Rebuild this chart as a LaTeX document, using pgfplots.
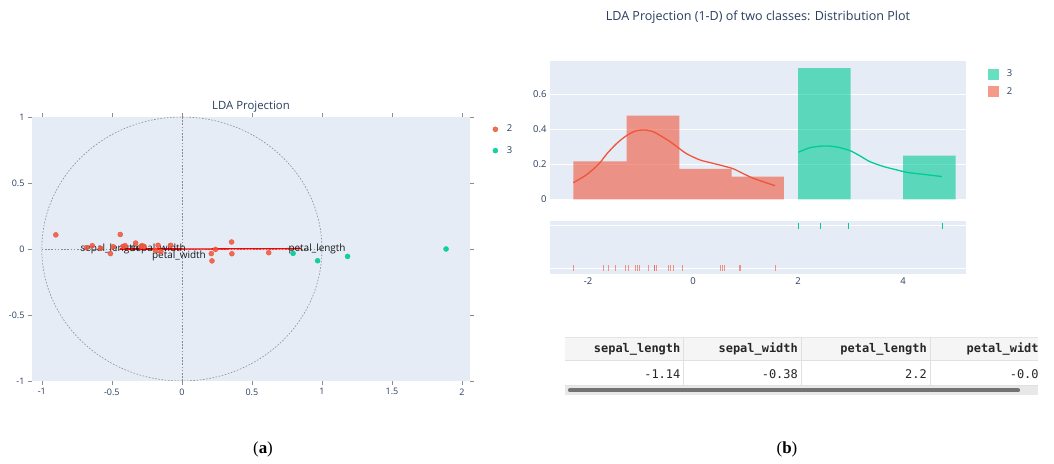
\documentclass[border=0pt]{standalone}
\usepackage{pgfplots}
\pgfplotsset{compat=1.18}
\usepackage{fontspec}
\setmainfont{Open Sans}
\newfontfamily\mono{DejaVu Sans Mono}
\newfontfamily\capfont{Liberation Serif}
\definecolor{plotbg}{HTML}{E5ECF6}
\definecolor{pred}{HTML}{EF553B}
\definecolor{pgreen}{HTML}{00CC96}
\definecolor{ptext}{HTML}{2A3F5F}

\begin{document}
\begin{tikzpicture}
\path[use as bounding box, fill=white] (0bp,0bp) rectangle (1054bp,464bp);

% ---------------- (a) LDA Projection ----------------
\begin{axis}[
  at={(32bp,83bp)}, anchor=south west, scale only axis,
  width=438bp, height=264bp,
  xmin=-1.07, xmax=2.057, ymin=-1, ymax=1,
  axis background/.style={fill=plotbg},
  axis line style={draw=none},
  tick align=outside, major tick length=4bp,
  tick style={draw=black!45, line width=0.6bp},
  xtick={-1,-0.5,0,0.5,1,1.5,2}, xticklabels={-1,-0.5,0,0.5,1,1.5,2},
  ytick={-1,-0.5,0,0.5,1}, yticklabels={-1,-0.5,0,0.5,1},
  tick label style={font=\fontsize{9}{10}\selectfont, text=ptext},
  legend style={at={(1.045,0.985)}, anchor=north west, draw=none, fill=none,
    font=\fontsize{9.5}{11}\selectfont, text=ptext, row sep=9bp},
  legend cell align=left,
]
\addplot[only marks, pred, mark=*, mark size=2.5bp, mark options={draw=none, fill=pred, fill opacity=0.85}]
 coordinates {(-0.90,0.107) (-0.68,0.01) (-0.64,0.025) (-0.58,0.005) (-0.51,-0.035)
  (-0.49,0.017) (-0.44,0.11) (-0.42,0.02) (-0.405,0.025) (-0.33,0.045) (-0.29,0.02)
  (-0.285,0.025) (-0.27,0.02) (-0.19,-0.01) (-0.17,0.028) (-0.15,-0.02) (-0.08,0.028)
  (0.21,-0.035) (0.215,-0.09) (0.24,-0.003) (0.355,0.053) (0.357,-0.036) (0.62,-0.028)};
\addlegendentry{\hspace{7bp}2}
\addplot[only marks, pgreen, mark=*, mark size=2.5bp, mark options={draw=none, fill=pgreen, fill opacity=0.9}]
 coordinates {(0.794,-0.033) (0.969,-0.089) (1.183,-0.056) (1.886,0.0)};
\addlegendentry{\hspace{7bp}3}
% reference circle and axes lines
\draw[black!45, line width=0.6bp, dash pattern=on 1.6bp off 1.6bp] (axis cs:0,0) ellipse [x radius=1, y radius=1];
\addplot[forget plot, black!45, line width=0.6bp, dash pattern=on 1.6bp off 1.6bp] coordinates {(-1,0) (1,0)};
\addplot[forget plot, black!45, line width=0.6bp, dash pattern=on 1.6bp off 1.6bp] coordinates {(0,-1) (0,1)};
% loading vectors
\addplot[forget plot, red, line width=1.3bp] coordinates {(0,0) (-0.44,0)};
\addplot[forget plot, red, line width=1.3bp] coordinates {(0,0) (-0.15,0)};
\addplot[forget plot, red, line width=1.3bp] coordinates {(0,0) (0.85,0.003)};
\addplot[forget plot, red, line width=1.3bp] coordinates {(0,0) (-0.02,-0.005)};
\node[font=\fontsize{10}{12}\selectfont, text=black!90] at (axis cs:-0.515,0) {sepal\_length};
\node[font=\fontsize{10}{12}\selectfont, text=black!90] at (axis cs:-0.168,0) {sepal\_width};
\node[font=\fontsize{10}{12}\selectfont, text=black!90] at (axis cs:-0.021,-0.053) {petal\_width};
\node[font=\fontsize{10}{12}\selectfont, text=black!90] at (axis cs:0.965,0) {petal\_length};
\end{axis}
\node[font=\fontsize{11.4}{13}\selectfont, text=ptext] at (251bp,357bp) {LDA Projection};

% ---------------- (b) distribution plot ----------------
\begin{axis}[
  at={(550bp,264.7bp)}, anchor=south west, scale only axis,
  width=416bp, height=138.3bp,
  xmin=-2.724, xmax=5.2, ymin=0, ymax=0.79,
  axis background/.style={fill=plotbg},
  axis line style={draw=none},
  xtick=\empty, ytick={0,0.2,0.4,0.6}, yticklabels={0,0.2,0.4,0.6},
  ymajorgrids, grid style={white, line width=1bp},
  major tick length=0pt,
  tick label style={font=\fontsize{9.5}{11}\selectfont, text=ptext},
  legend style={at={(1.045,0.965)}, anchor=north west, draw=none, fill=none,
    font=\fontsize{9.5}{11}\selectfont, text=ptext, row sep=5bp},
  legend cell align=left,
]
\addplot[ybar interval, fill=pgreen, fill opacity=0.6, draw=none,
  legend image code/.code={\fill[pgreen, fill opacity=0.6] (0bp,-5.5bp) rectangle (11bp,5.5bp);}]
 coordinates {(2.0,0.75) (3.0,0) (4.0,0.25) (5.0,0.25)};
\addlegendentry{\hspace{6bp}3}
\addplot[ybar interval, fill=pred, fill opacity=0.6, draw=none,
  legend image code/.code={\fill[pred, fill opacity=0.6] (0bp,-5.5bp) rectangle (11bp,5.5bp);}]
 coordinates {(-2.28,0.217) (-1.263,0.478) (-0.261,0.174) (0.737,0.130) (1.733,0.130)};
\addlegendentry{\hspace{6bp}2}
\addplot[forget plot, pred, line width=1.3bp, smooth] coordinates {
 (-2.28,0.095) (-2.03,0.14) (-1.80,0.20) (-1.64,0.26) (-1.45,0.32) (-1.26,0.365)
 (-1.10,0.39) (-0.91,0.396) (-0.75,0.385) (-0.63,0.365) (-0.44,0.33) (-0.26,0.29)
 (-0.12,0.26) (0.13,0.225) (0.39,0.205) (0.74,0.177) (0.90,0.155) (1.15,0.12) (1.56,0.078)};
\addplot[forget plot, pgreen, line width=1.3bp, smooth] coordinates {
 (2.01,0.269) (2.23,0.295) (2.51,0.305) (2.75,0.298) (2.99,0.278) (3.18,0.248)
 (3.37,0.215) (3.63,0.187) (3.88,0.168) (4.07,0.154) (4.32,0.145) (4.74,0.13)};
\end{axis}

\begin{axis}[
  at={(550bp,190bp)}, anchor=south west, scale only axis,
  width=416bp, height=53.3bp,
  xmin=-2.724, xmax=5.2, ymin=-0.135, ymax=1.125,
  axis background/.style={fill=plotbg},
  axis line style={draw=none},
  xtick={-2,0,2,4}, xticklabels={-2,0,2,4},
  ytick={0,1}, yticklabels={},
  ymajorgrids, grid style={white, line width=1bp},
  major tick length=0pt,
  tick label style={font=\fontsize{9.5}{11}\selectfont, text=ptext},
]
\addplot[only marks, mark=|, mark size=3bp, pgreen, mark options={line width=1bp}]
 coordinates {(2.0,1) (2.43,1) (2.97,1) (4.75,1)};
\addplot[only marks, mark=|, mark size=3bp, pred, mark options={line width=1.1bp, draw opacity=0.6}]
 coordinates {(-2.27,0) (-1.71,0) (-1.61,0) (-1.47,0) (-1.28,0) (-1.23,0) (-1.10,0)
  (-1.06,0) (-1.02,0) (-0.84,0) (-0.74,0) (-0.73,0) (-0.69,0) (-0.47,0) (-0.43,0)
  (-0.37,0) (-0.20,0) (0.53,0) (0.56,0) (0.60,0) (0.89,0) (0.90,0) (1.57,0)};
\end{axis}
\node[font=\fontsize{12.6}{14}\selectfont, text=ptext] at (758bp,447bp)
  {LDA Projection (1-D) of two classes: Distribution Plot};

% ---------------- table ----------------
\fill[black!4] (565bp,103.3bp) rectangle (1038bp,126.7bp);
\draw[black!10, line width=0.6bp] (565bp,126.7bp) -- (1038bp,126.7bp);
\draw[black!12, line width=0.6bp] (565bp,103.3bp) -- (1038bp,103.3bp);
\draw[black!12, line width=0.6bp] (565bp,79bp) -- (1038bp,79bp);
\foreach \xx in {683.3,801,930} {\draw[black!12, line width=0.6bp] (\xx bp,79bp) -- (\xx bp,126.7bp);}
\fill[black!9] (565bp,69bp) rectangle (1038bp,78.3bp);
\draw[black!55, line width=4.2bp, line cap=round] (570bp,73.7bp) -- (1018bp,73.7bp);
\begin{scope}[every node/.style={anchor=east, inner sep=0pt, text=black!85}]
\node[font=\mono\bfseries\fontsize{12}{14}\selectfont] at (680.5bp,115bp) {sepal\_length};
\node[font=\mono\bfseries\fontsize{12}{14}\selectfont] at (798bp,115bp) {sepal\_width};
\node[font=\mono\bfseries\fontsize{12}{14}\selectfont] at (927bp,115bp) {petal\_length};
\node[font=\mono\fontsize{12}{14}\selectfont] at (680.5bp,90bp) {-1.14};
\node[font=\mono\fontsize{12}{14}\selectfont] at (798bp,90bp) {-0.38};
\node[font=\mono\fontsize{12}{14}\selectfont] at (927bp,90bp) {2.2};
\begin{scope}
\clip (930bp,79bp) rectangle (1037bp,126.7bp);
\node[font=\mono\bfseries\fontsize{12}{14}\selectfont] at (1046bp,115bp) {petal\_width};
\node[font=\mono\fontsize{12}{14}\selectfont] at (1046bp,90bp) {-0.06};
\end{scope}
\end{scope}

% captions
\node[font=\capfont\fontsize{17}{20}\selectfont] at (263bp,15bp) {(\textbf{a})};
\node[font=\capfont\fontsize{17}{20}\selectfont] at (787bp,15bp) {(\textbf{b})};
\end{tikzpicture}
\end{document}
